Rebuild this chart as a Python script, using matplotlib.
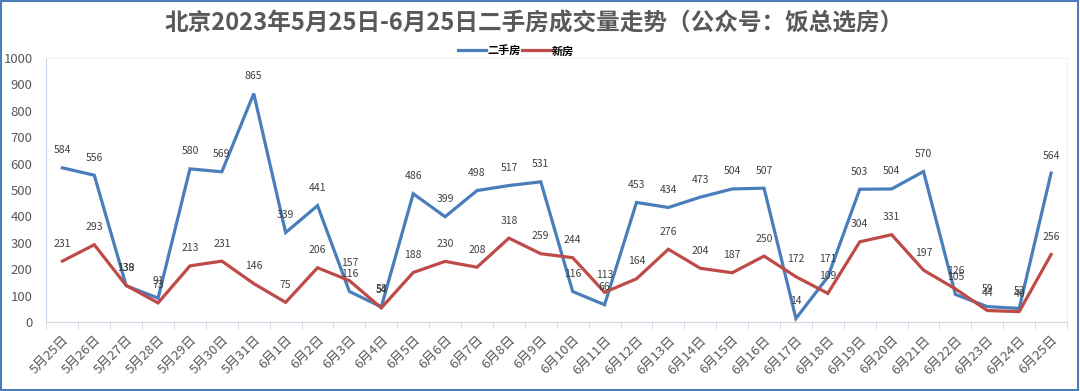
import numpy as np
import matplotlib
matplotlib.use('Agg')
from matplotlib import pyplot as plt
from matplotlib.patches import Rectangle

plt.rcParams['font.family'] = ['Noto Sans CJK SC', 'DejaVu Sans']

dates = ['5月25日', '5月26日', '5月27日', '5月28日', '5月29日', '5月30日', '5月31日',
         '6月1日', '6月2日', '6月3日', '6月4日', '6月5日', '6月6日', '6月7日', '6月8日',
         '6月9日', '6月10日', '6月11日', '6月12日', '6月13日', '6月14日', '6月15日',
         '6月16日', '6月17日', '6月18日', '6月19日', '6月20日', '6月21日', '6月22日',
         '6月23日', '6月24日', '6月25日']
second_hand = [584, 556, 138, 91, 580, 569, 865, 339, 441, 116, 58, 486, 399, 498, 517,
               531, 116, 66, 453, 434, 473, 504, 507, 14, 171, 503, 504, 570, 105, 59, 52, 564]
new_house = [231, 293, 139, 73, 213, 231, 146, 75, 206, 157, 54, 188, 230, 208, 318,
             259, 244, 113, 164, 276, 204, 187, 250, 172, 109, 304, 331, 197, 126, 44, 40, 256]

blue = '#4A7EBB'
red = '#BE4B48'
txt = '#404040'

fig = plt.figure(figsize=(10.8, 3.91), dpi=100)
fig.patches.append(Rectangle((0.001, 0.002), 0.997, 0.995, transform=fig.transFigure,
                             fill=False, edgecolor='#4A7EBB', linewidth=1.5))
ax = fig.add_axes([0.043, 0.176, 0.945, 0.676])

x = np.arange(len(dates))
ax.plot(x, second_hand, color=blue, lw=2.3, label='二手房', solid_joinstyle='miter')
ax.plot(x, new_house, color=red, lw=2.3, label='新房', solid_joinstyle='miter')

for i in x:
    ax.annotate(str(second_hand[i]), (i, second_hand[i]), xytext=(0, 9),
                textcoords='offset points', ha='center', va='bottom', fontsize=7.5, color=txt)
    ax.annotate(str(new_house[i]), (i, new_house[i]), xytext=(0, 9),
                textcoords='offset points', ha='center', va='bottom', fontsize=7.5, color=txt)

ax.set_xlim(-0.5, len(dates) - 0.5)
ax.set_ylim(0, 1000)
ax.set_yticks(range(0, 1001, 100))
ax.tick_params(axis='y', length=0, labelsize=9.5, labelcolor='#595959', pad=10)
ax.set_xticks(x)
ax.set_xticklabels(dates, rotation=45, ha='right', rotation_mode='anchor',
                   fontsize=9.5, color='#595959')
ax.set_xticks(np.arange(-0.5, len(dates), 1), minor=True)
ax.tick_params(axis='x', which='major', length=0, pad=8)
ax.tick_params(axis='x', which='minor', length=5, color='#D0D7E2')

for s in ['top', 'right']:
    ax.spines[s].set_color('#EEF2F8')
ax.spines['left'].set_color('#C8D6EA')
ax.spines['bottom'].set_color('#D0D7E2')

fig.text(0.495, 0.94, '北京2023年5月25日-6月25日二手房成交量走势（公众号：饭总选房）',
         ha='center', va='center', fontsize=17, fontweight='bold', color='#595959')
leg = ax.legend(loc='lower center', bbox_to_anchor=(0.46, 0.985), ncol=2, frameon=False,
                prop={'size': 8, 'weight': 'bold'}, handlelength=2.6, handletextpad=0.1,
                columnspacing=0.1, borderaxespad=0)
for t in leg.get_texts():
    t.set_color('black')

fig.savefig('out.png', dpi=100)
